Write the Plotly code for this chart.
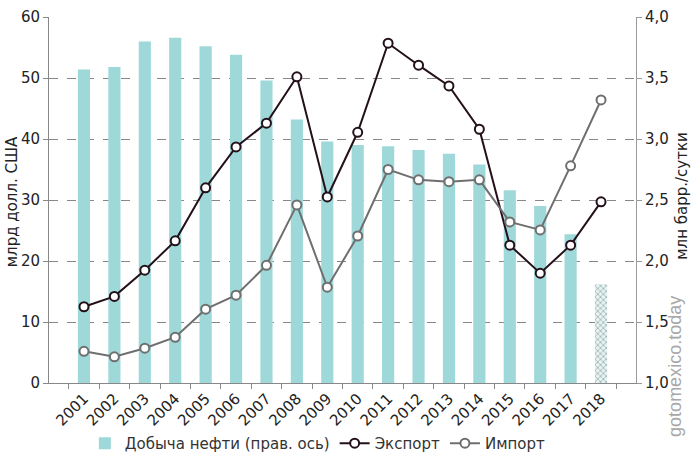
import plotly.graph_objects as go

years = [str(y) for y in range(2001, 2019)]

# добыча нефти, млн барр./сутки (правая ось)
production = [3.57, 3.59, 3.80, 3.83, 3.76, 3.69, 3.48, 3.16, 2.98,
              2.95, 2.94, 2.91, 2.88, 2.79, 2.58, 2.45, 2.22, 1.81]

# экспорт и импорт, млрд долл. США (левая ось)
export = [12.5, 14.2, 18.5, 23.3, 32.0, 38.7, 42.6, 50.2, 30.5,
          41.1, 55.7, 52.1, 48.7, 41.6, 22.6, 18.0, 22.6, 29.7]
imports = [5.2, 4.3, 5.7, 7.5, 12.1, 14.4, 19.3, 29.2, 15.7,
           24.1, 35.0, 33.3, 33.0, 33.3, 26.4, 25.1, 35.6, 46.4]

left_ticks = [0, 10, 20, 30, 40, 50, 60]
right_ticks = [1.0, 1.5, 2.0, 2.5, 3.0, 3.5, 4.0]

font = "DejaVu Sans"
bar_color = "#9ed8d9"

# последний год - оценка, штриховка
bar_colors = [bar_color] * (len(years) - 1) + ["#e4f4f4"]
bar_patterns = [""] * (len(years) - 1) + ["x"]

fig = go.Figure()
# bars on the bottom axis (y), lines on the overlaying one (y2) so they stay on top
fig.add_trace(go.Bar(
    x=years, y=production, name="Добыча нефти (прав. ось)", yaxis="y",
    width=0.4,
    marker=dict(color=bar_colors, line=dict(width=0),
                pattern=dict(shape=bar_patterns, fgcolor="#a8dcdc", size=4, solidity=0.3)),
))
fig.add_trace(go.Scatter(
    x=years, y=export, name="Экспорт", mode="lines+markers", yaxis="y2",
    line=dict(color="#24101a", width=2),
    marker=dict(symbol="circle", size=9, color="white", line=dict(color="#24101a", width=2)),
))
fig.add_trace(go.Scatter(
    x=years, y=imports, name="Импорт", mode="lines+markers", yaxis="y2",
    line=dict(color="#6f6f6f", width=2),
    marker=dict(symbol="circle", size=9, color="white", line=dict(color="#6f6f6f", width=2)),
))

fig.update_layout(
    width=700, height=466,
    margin=dict(l=49, r=64, t=17, b=83, autoexpand=False),
    paper_bgcolor="white", plot_bgcolor="white",
    font=dict(family=font, size=15, color="#222"),
    showlegend=True,
    legend=dict(orientation="h", x=0.458, xanchor="center", y=-0.165, yanchor="middle",
                font=dict(size=15, color="#333"), itemwidth=30, traceorder="normal"),
    xaxis=dict(type="category", tickangle=-45, ticks="outside", tickson="boundaries",
               ticklen=5, tickcolor="#888", showline=True, linecolor="#888",
               showgrid=False, automargin=False, tickfont=dict(size=15, color="#222")),
    yaxis=dict(range=[1.0, 4.0], side="right", tickvals=right_ticks,
               ticktext=[f"{v:.1f}".replace(".", ",") for v in right_ticks],
               showline=True, linecolor="#999", zeroline=False,
               gridcolor="#888", griddash="dash", gridwidth=1,
               ticks="outside", ticklen=5, tickcolor="#999", automargin=False,
               tickfont=dict(size=15, color="#222")),
    yaxis2=dict(range=[0, 60], overlaying="y", side="left", tickvals=left_ticks,
                showline=True, linecolor="#888", showgrid=False, zeroline=False,
                ticks="outside", ticklen=5, tickcolor="#888", automargin=False,
                tickfont=dict(size=15, color="#222")),
    annotations=[
        dict(text="млрд долл. США", xref="paper", yref="paper", x=-0.064, y=0.495,
             xanchor="center", yanchor="middle",
             textangle=-90, showarrow=False, font=dict(size=15, color="#222")),
        dict(text="млн барр./сутки", xref="paper", yref="paper", x=1.079, y=0.51,
             xanchor="center", yanchor="middle",
             textangle=-90, showarrow=False, font=dict(size=15, color="#222")),
        dict(text="gotomexico.today", xref="paper", yref="paper", x=1.066, y=0.046,
             xanchor="center", yanchor="middle",
             textangle=-90, showarrow=False,
             font=dict(family="Liberation Sans", size=18, color="#a8a8a8")),
    ],
)

# the page body has a default 8px margin; drop it so the 700x466 figure fits the window
fig.write_html("out.html", config={"displayModeBar": False},
               post_script="document.body.style.margin = '0';")
